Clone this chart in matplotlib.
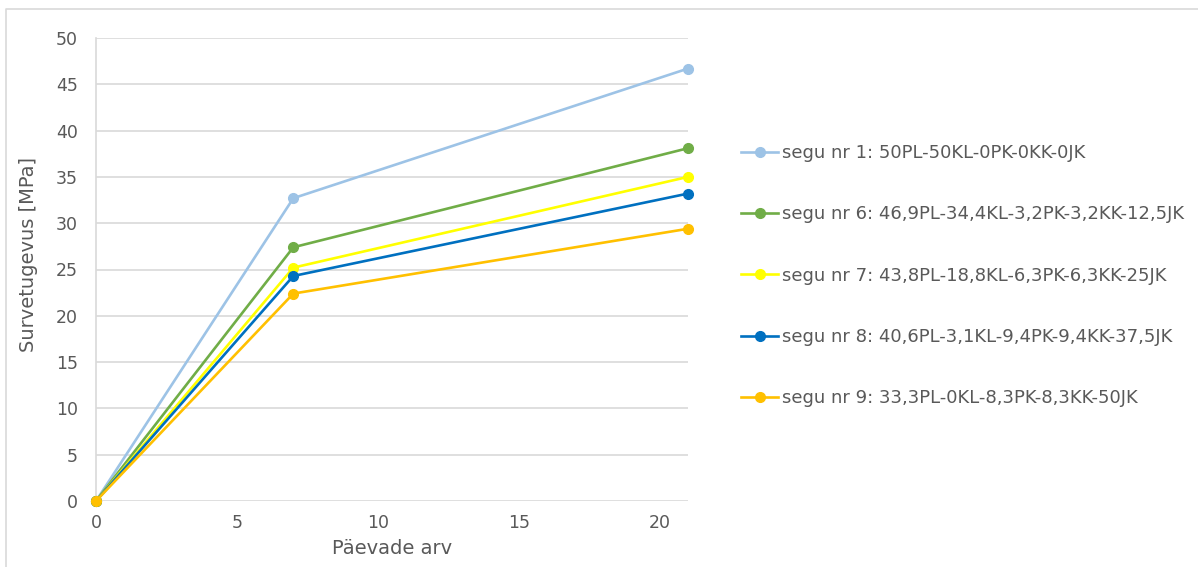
import matplotlib.pyplot as plt
from matplotlib.lines import Line2D

plt.rcParams["font.family"] = ["DejaVu Sans"]

# Survetugevus katsekehade vanuse järgi
paevad = [0, 7, 21]
segu_1 = [0, 32.7, 46.7]
segu_6 = [0, 27.4, 38.1]
segu_7 = [0, 25.2, 35.0]
segu_8 = [0, 24.3, 33.2]
segu_9 = [0, 22.4, 29.4]

nimed = [
    "segu nr 1: 50PL-50KL-0PK-0KK-0JK",
    "segu nr 6: 46,9PL-34,4KL-3,2PK-3,2KK-12,5JK",
    "segu nr 7: 43,8PL-18,8KL-6,3PK-6,3KK-25JK",
    "segu nr 8: 40,6PL-3,1KL-9,4PK-9,4KK-37,5JK",
    "segu nr 9: 33,3PL-0KL-8,3PK-8,3KK-50JK",
]
varvid = ["#9DC3E6", "#70AD47", "#FFFF00", "#0070C0", "#FFC000"]

tekst = "#595959"
grid = "#D9D9D9"

fig = plt.figure(figsize=(11.98, 5.67), dpi=100)
ax = fig.add_axes([96 / 1198, 1 - 501 / 567, (688 - 96) / 1198, (501 - 38) / 567])

for y, nimi, v in zip([segu_1, segu_6, segu_7, segu_8, segu_9], nimed, varvid):
    ax.plot(paevad, y, color=v, linewidth=1.9, marker="o", markersize=7,
            label=nimi, clip_on=False, zorder=3)

ax.set_xlim(0, 21)
ax.set_ylim(0, 50)
ax.set_xticks([0, 5, 10, 15, 20])
ax.set_yticks(range(0, 51, 5))
ax.grid(axis="y", color=grid, linewidth=1.2)
ax.set_axisbelow(True)
for s in ["top", "right", "bottom"]:
    ax.spines[s].set_visible(False)
ax.spines["left"].set_color(grid)
ax.spines["left"].set_linewidth(1.2)
ax.tick_params(length=0, labelsize=12.5, colors=tekst)
ax.tick_params(axis="y", pad=13)
ax.tick_params(axis="x", pad=9)

ax.set_xlabel("Päevade arv", fontsize=14, color=tekst)
ax.set_ylabel("Survetugevus [MPa]", fontsize=14, color=tekst)
ax.xaxis.set_label_coords(0.5, -(549 - 501) / 463)
ax.yaxis.set_label_coords(-(96 - 29) / 592, (501 - 254) / 463)
ax.xaxis.label.set_va("center")
ax.yaxis.label.set_va("center")

fig.legend(loc="upper left", bbox_to_anchor=(741 / 1198, 1 - 144 / 567),
           frameon=False, fontsize=13, labelcolor=tekst, labelspacing=2.4,
           handlelength=2.05, handletextpad=0.22, borderaxespad=0, borderpad=0)

# raam (ülemine ja vasak serv)
fig.add_artist(Line2D([6 / 1198, 6 / 1198, 1.0], [0.0, 1 - 9 / 567, 1 - 9 / 567],
                      transform=fig.transFigure, color=grid, linewidth=1.2))

fig.savefig("out.png", dpi=100)
